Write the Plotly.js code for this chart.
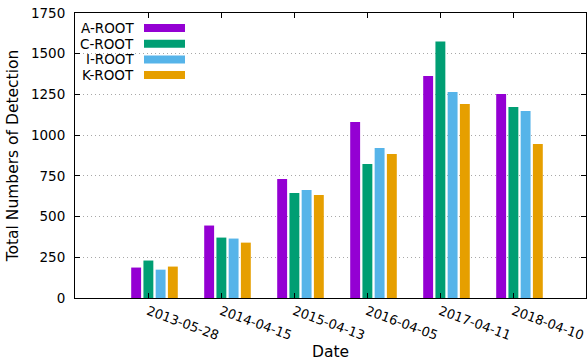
<!DOCTYPE html>
<html>
<head>
<meta charset="utf-8">
<script src="https://cdn.plot.ly/plotly-3.0.1.min.js"></script>
<style>html,body{margin:0;padding:0;background:#fff;}#chart{width:588px;height:364px;}</style>
</head>
<body>
<div id="chart"></div>
<script>
// Data
const dates = ["2013-05-28", "2014-04-15", "2015-04-13", "2016-04-05", "2017-04-11", "2018-04-10"];
const clusterIndex = [1, 2, 3, 4, 5, 6];
const seriesNames = ["A-ROOT", "C-ROOT", "I-ROOT", "K-ROOT"];
const aRoot = [187, 445, 731, 1081, 1363, 1252];
const cRoot = [230, 371, 645, 823, 1575, 1173];
const iRoot = [174, 365, 663, 921, 1265, 1148];
const kRoot = [193, 340, 632, 884, 1191, 946];
const colors = ["#9400d3", "#009e73", "#56b4e9", "#e69f00"];
const yTicks = [0, 250, 500, 750, 1000, 1250, 1500, 1750];

const FONT = "DejaVu Sans, Liberation Sans, sans-serif";
const shift = 0.089; // gnuplot cluster offset vs tick
const allSeries = [aRoot, cRoot, iRoot, kRoot];

const traces = allSeries.map((vals, k) => ({
  type: "bar",
  name: seriesNames[k],
  x: clusterIndex,
  y: vals,
  marker: {color: colors[k], line: {width: 0}},
  showlegend: false,
  hoverinfo: "x+y+name"
}));

// custom legend (text right-aligned, swatch to the right)
const annotations = [];
const shapes = [];
const rowY0 = 28, rowStep = 15.7, plotTop = 13, plotH = 285, plotL = 75, plotW = 511;
seriesNames.forEach((n, k) => {
  const yPix = rowY0 + k * rowStep;
  const yPaper = 1 - (yPix - plotTop) / plotH;
  annotations.push({
    xref: "paper", yref: "paper", x: (136 - plotL) / plotW, y: yPaper,
    xanchor: "right", yanchor: "middle", text: n, showarrow: false,
    font: {family: FONT, size: 13.5, color: "#000"}
  });
  shapes.push({
    type: "rect", xref: "paper", yref: "paper",
    x0: (144 - plotL) / plotW, x1: (185 - plotL) / plotW,
    y0: yPaper - 4 / plotH, y1: yPaper + 4 / plotH,
    fillcolor: colors[k], line: {width: 0}
  });
});

const layout = {
  width: 588, height: 364,
  margin: {l: 75, r: 2, t: 13, b: 66, pad: 0},
  paper_bgcolor: "#fff", plot_bgcolor: "#fff",
  barmode: "group", bargap: 0.33, bargroupgap: 0.19,
  font: {family: FONT, size: 13, color: "#000"},
  xaxis: {
    range: [-shift, 7 - shift],
    tickmode: "array",
    tickvals: clusterIndex.map(v => v - shift),
    ticktext: dates,
    tickangle: 20,
    ticks: "inside", ticklen: 5, tickcolor: "#000",
    showline: true, linecolor: "#000", linewidth: 1, mirror: "ticks",
    showgrid: false, zeroline: false,
    tickfont: {family: FONT, size: 13, color: "#000"},
    title: {text: "Date", font: {family: FONT, size: 15.5, color: "#000"}, standoff: 4}
  },
  yaxis: {
    range: [0, 1750],
    tickmode: "array", tickvals: yTicks,
    ticks: "inside", ticklen: 5, tickcolor: "#000",
    showline: true, linecolor: "#000", linewidth: 1, mirror: "ticks",
    showgrid: true, gridcolor: "#a8a8a8", griddash: "1px,3px", gridwidth: 1,
    zeroline: false,
    ticklabelstandoff: 6,
    tickfont: {family: FONT, size: 13.5, color: "#000"},
    title: {text: "Total Numbers of Detection", font: {family: FONT, size: 15.5, color: "#000"}, standoff: 8}
  },
  annotations: annotations,
  shapes: shapes
};

Plotly.newPlot("chart", traces, layout, {displayModeBar: false, staticPlot: true});
</script>
</body>
</html>
